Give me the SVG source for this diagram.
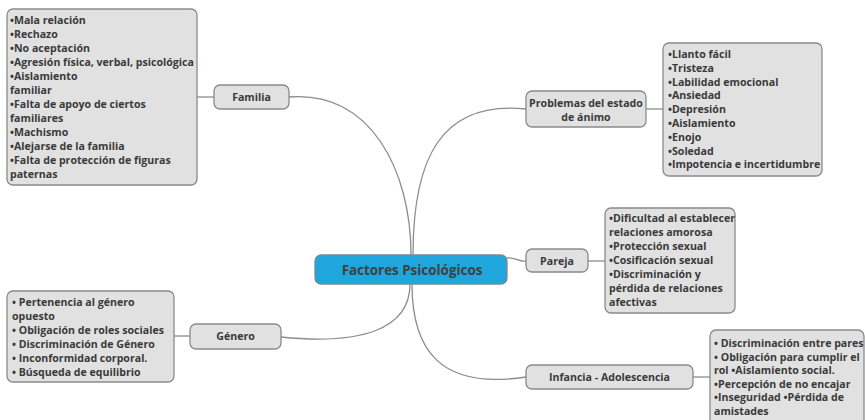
<svg xmlns="http://www.w3.org/2000/svg" width="865" height="420" viewBox="0 0 865 420">
<style>
.box{fill:#e1e1e1;stroke:#8a8a8a;stroke-width:1.3}
.root{fill:#1fa6dd;stroke:#7a8a90;stroke-width:1.3}
.t{font-family:"Open Sans","Noto Sans","DejaVu Sans",sans-serif;font-weight:bold;font-size:10.6px;fill:#3a3a3a}
.c{text-anchor:middle}
.title{font-size:13.4px;fill:#404040}
.con{fill:none;stroke:#8c8c8c;stroke-width:1.3}
</style>
<rect width="865" height="420" fill="#ffffff"/>
<g id="connectors">
<path class="con" d="M411,255 C411,170 370,90 289,97"/>
<path class="con" d="M413,255 C413,160 440,100 526,109"/>
<path class="con" d="M507,258 C516,257 518,262 526,261"/>
<path class="con" d="M410,284 C410,330 360,345 281,337"/>
<path class="con" d="M412,284 C412,350 440,390 526,377"/>
<path class="con" d="M197,97 H214"/>
<path class="con" d="M646,109 H663"/>
<path class="con" d="M588,261 H605"/>
<path class="con" d="M174,336 H190"/>
<path class="con" d="M693,377 H710"/>
</g>
<g id="root">
<rect class="root" x="315" y="255" width="192" height="29" rx="6"/>
<text class="t c title" x="412" y="274.5">Factores Psicológicos</text>
</g>
<g id="familia">
<rect class="box" x="214" y="85" width="75" height="24" rx="6"/>
<text class="t c" x="251.5" y="101">Familia</text>
</g>
<g id="familia-detalle">
<rect class="box" x="7" y="9" width="190" height="176" rx="6"/>
<text class="t" x="10" y="24">
<tspan x="10">•Mala relación</tspan>
<tspan x="10" dy="14">•Rechazo</tspan>
<tspan x="10" dy="14">•No aceptación</tspan>
<tspan x="10" dy="14">•Agresión física, verbal, psicológica</tspan>
<tspan x="10" dy="14">•Aislamiento</tspan>
<tspan x="10" dy="14">familiar</tspan>
<tspan x="10" dy="14">•Falta de apoyo de ciertos</tspan>
<tspan x="10" dy="14">familiares</tspan>
<tspan x="10" dy="14">•Machismo</tspan>
<tspan x="10" dy="14">•Alejarse de la familia</tspan>
<tspan x="10" dy="14">•Falta de protección de figuras</tspan>
<tspan x="10" dy="14">paternas</tspan>
</text>
</g>
<g id="animo">
<rect class="box" x="526" y="91" width="120" height="36" rx="6"/>
<text class="t c" x="586" y="107">Problemas del estado<tspan x="586" dy="14">de ánimo</tspan></text>
</g>
<g id="animo-detalle">
<rect class="box" x="663" y="43" width="159" height="133" rx="6"/>
<text class="t" x="668" y="58">
<tspan x="668">•Llanto fácil</tspan>
<tspan x="668" dy="13.8">•Tristeza</tspan>
<tspan x="668" dy="13.8">•Labilidad emocional</tspan>
<tspan x="668" dy="13.8">•Ansiedad</tspan>
<tspan x="668" dy="13.8">•Depresión</tspan>
<tspan x="668" dy="13.8">•Aislamiento</tspan>
<tspan x="668" dy="13.8">•Enojo</tspan>
<tspan x="668" dy="13.8">•Soledad</tspan>
<tspan x="668" dy="13.8">•Impotencia e incertidumbre</tspan>
</text>
</g>
<g id="pareja">
<rect class="box" x="526" y="249" width="62" height="23" rx="6"/>
<text class="t c" x="557" y="265">Pareja</text>
</g>
<g id="pareja-detalle">
<rect class="box" x="605" y="208" width="130" height="105" rx="6"/>
<text class="t" x="609" y="222">
<tspan x="609">•Dificultad al establecer</tspan>
<tspan x="609" dy="14">relaciones amorosa</tspan>
<tspan x="609" dy="14">•Protección sexual</tspan>
<tspan x="609" dy="14">•Cosificación sexual</tspan>
<tspan x="609" dy="14">•Discriminación y</tspan>
<tspan x="609" dy="14">pérdida de relaciones</tspan>
<tspan x="609" dy="14">afectivas</tspan>
</text>
</g>
<g id="genero">
<rect class="box" x="190" y="324" width="91" height="25" rx="6"/>
<text class="t c" x="235.5" y="340">Género</text>
</g>
<g id="genero-detalle">
<rect class="box" x="7" y="291" width="167" height="91" rx="6"/>
<text class="t" x="12" y="306">
<tspan x="12">• Pertenencia al género</tspan>
<tspan x="12" dy="14">opuesto</tspan>
<tspan x="12" dy="14">• Obligación de roles sociales</tspan>
<tspan x="12" dy="14">• Discriminación de Género</tspan>
<tspan x="12" dy="14">• Inconformidad corporal.</tspan>
<tspan x="12" dy="14">• Búsqueda de equilibrio</tspan>
</text>
</g>
<g id="infancia">
<rect class="box" x="526" y="365" width="167" height="24" rx="6"/>
<text class="t c" x="609.5" y="381">Infancia - Adolescencia</text>
</g>
<g id="infancia-detalle">
<rect class="box" x="710" y="330" width="154" height="100" rx="6"/>
<text class="t" x="714" y="347">
<tspan x="714">• Discriminación entre pares</tspan>
<tspan x="714" dy="13.6">• Obligación para cumplir el</tspan>
<tspan x="714" dy="13.6">rol •Aislamiento social.</tspan>
<tspan x="714" dy="13.6">•Percepción de no encajar</tspan>
<tspan x="714" dy="13.6">•Inseguridad •Pérdida de</tspan>
<tspan x="714" dy="13.6">amistades</tspan>
</text>
</g>
</svg>
